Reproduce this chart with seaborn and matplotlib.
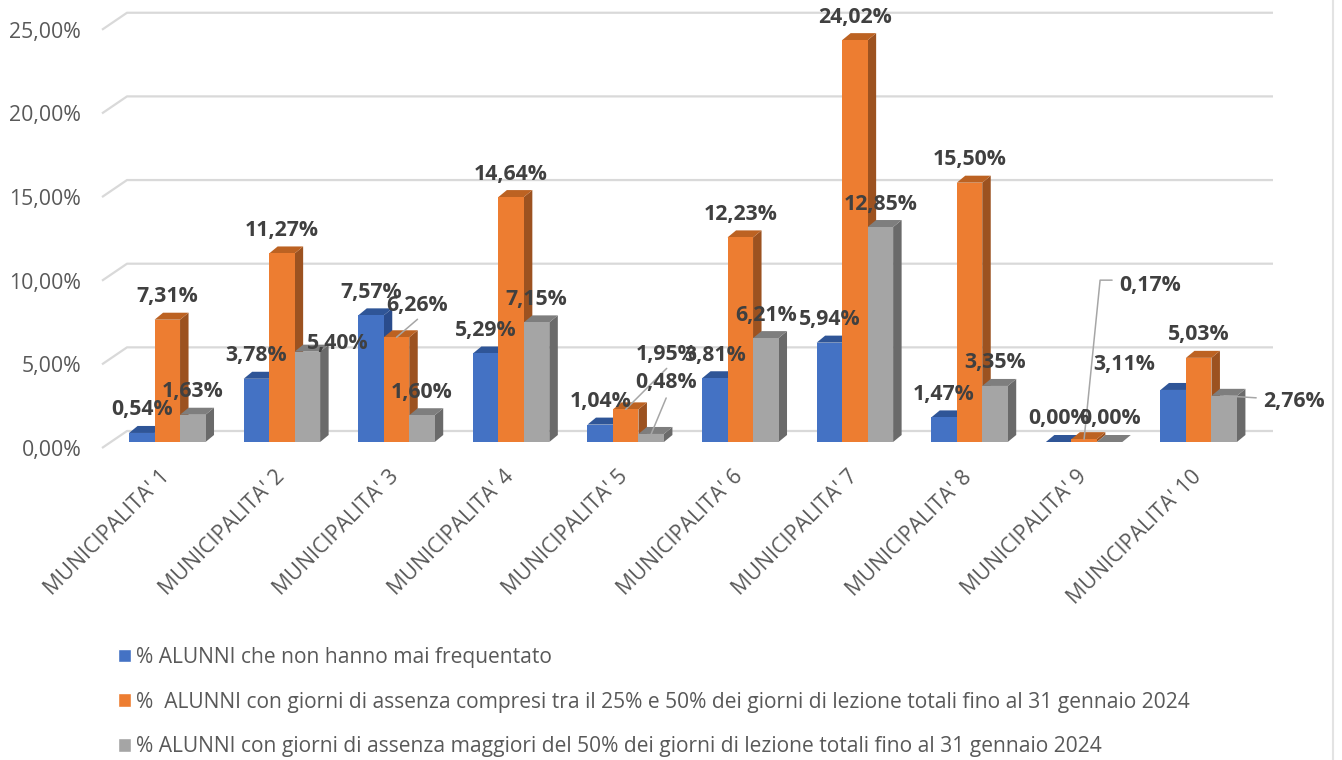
import pandas as pd
import matplotlib
matplotlib.use('Agg')
import matplotlib.pyplot as plt
import matplotlib.transforms as mtransforms
from matplotlib.lines import Line2D
from matplotlib.patches import Polygon
from matplotlib.ticker import FuncFormatter
import seaborn as sns

municipalita = ["MUNICIPALITA' %d" % i for i in range(1, 11)]
mai_frequentato = [0.54, 3.78, 7.57, 5.29, 1.04, 3.81, 5.94, 1.47, 0.00, 3.11]
assenza_25_50 = [7.31, 11.27, 6.26, 14.64, 1.95, 12.23, 24.02, 15.50, 0.17, 5.03]
assenza_50 = [1.63, 5.40, 1.60, 7.15, 0.48, 6.21, 12.85, 3.35, 0.00, 2.76]
y_ticks = [0, 5, 10, 15, 20, 25]

serie = ["% ALUNNI che non hanno mai frequentato",
         "%  ALUNNI con giorni di assenza compresi tra il 25% e 50% dei giorni di lezione totali fino al 31 gennaio 2024",
         "% ALUNNI con giorni di assenza maggiori del 50% dei giorni di lezione totali fino al 31 gennaio 2024"]
colori = ['#4472C4', '#ED7D31', '#A5A5A5']
colori_top = ['#2F5597', '#BC6222', '#7E7E7E']
colori_side = ['#2A4C8C', '#9C5220', '#6A6A6A']

# labels that Excel moved away from the default place (serie, gruppo): px offset
label_offset = {(2, 1): (30, 8), (1, 2): (21, 32), (1, 4): (41, 55), (2, 4): (15, 51),
                (1, 8): (66, 154), (0, 9): (-49, 25), (2, 9): (70, -6)}
leaders = {(1, 2): [(0, 0), (21, 18)], (1, 4): [(0, 0), (41, 41)], (2, 4): [(0, 0), (15, 36)],
           (1, 8): [(0, 0), (16, 159), (28, 159)], (2, 9): [(0, 0), (32, -2)]}

W, H = 1342, 760
PX_X = 114.6   # px per category
PX_Y = 16.73   # px per 1%
X0, Y0 = 167.3, 442  # px of first category / of 0%
LEFT, RIGHT, TOP, BOTTOM = 102, 1273, 12, 448

df = pd.DataFrame({'municipalita': municipalita * 3,
                   'serie': [s for s in serie for _ in municipalita],
                   'valore': mai_frequentato + assenza_25_50 + assenza_50})

sns.set_theme(style='white')
plt.rcParams['font.family'] = ['Open Sans', 'DejaVu Sans']

fig = plt.figure(figsize=(W / 100, H / 100), dpi=100)
ax = fig.add_axes([LEFT / W, 1 - BOTTOM / H, (RIGHT - LEFT) / W, (BOTTOM - TOP) / H])
sns.barplot(data=df, x='municipalita', y='valore', hue='serie', hue_order=serie, palette=colori,
            saturation=1, width=0.667, gap=0, ax=ax, legend=True)

ax.set_xlim((LEFT - X0) / PX_X, (RIGHT - X0) / PX_X)
ax.set_ylim((Y0 - BOTTOM) / PX_Y, (Y0 - TOP) / PX_Y)
ax.set_xlabel('')
ax.set_ylabel('')
sns.despine(ax=ax, left=True, bottom=True)

# back wall and the little diagonal of every gridline
xmin, xmax = ax.get_xlim()
dx_wall = 25 / PX_X
for v in y_ticks:
    front = v + (Y0 - 448) / PX_Y
    back = v + (Y0 - 431) / PX_Y
    ax.plot([xmin, xmin + dx_wall, xmax], [front, back, back], color='#D9D9D9', lw=1.6,
            clip_on=False, zorder=0.5, solid_capstyle='butt')

ax.set_yticks(y_ticks)
ax.yaxis.set_major_formatter(FuncFormatter(lambda v, p: ('%.2f%%' % v).replace('.', ',')))
ax.tick_params(axis='y', length=0, pad=15, labelsize=15.3, labelcolor='#595959')
giu = mtransforms.ScaledTranslation(0, -6 / 100, fig.dpi_scale_trans)
for lab in ax.get_yticklabels():
    lab.set_transform(lab.get_transform() + giu)
ax.tick_params(axis='x', length=0, pad=9, labelsize=15.4, labelcolor='#595959')
sposta = mtransforms.ScaledTranslation(-8 / 100, -6 / 100, fig.dpi_scale_trans)
for lab in ax.get_xticklabels():
    lab.set_rotation(45)
    lab.set_ha('right')
    lab.set_rotation_mode('anchor')
    lab.set_transform(lab.get_transform() + sposta)

# fake 3D: side and top faces built from the seaborn bars
dx = 8.5 / PX_X
dy = 7 / PX_Y
for i, cont in enumerate(ax.containers):
    for g, bar in enumerate(cont.patches):
        x, w, h = bar.get_x(), bar.get_width(), bar.get_height()
        bar.set_zorder(3 + i + 0.5)
        bar.set_edgecolor('none')
        ax.add_patch(Polygon([(x + w, 0), (x + w + dx, dy), (x + w + dx, h + dy), (x + w, h)],
                             facecolor=colori_side[i], edgecolor='none', zorder=3 + i))
        ax.add_patch(Polygon([(x, h), (x + dx, h + dy), (x + w + dx, h + dy), (x + w, h)],
                             facecolor=colori_top[i], edgecolor='none', zorder=3 + i + 0.2))

        ox, oy = label_offset.get((i, g), (0, 23))
        ax.annotate(('%.2f%%' % h).replace('.', ','), xy=(x + w / 2, h), xytext=(ox, oy),
                    textcoords='offset pixels', ha='center', va='center', fontsize=15.3,
                    fontweight='bold', color='#404040', zorder=20, annotation_clip=False)
        if (i, g) in leaders:
            base = ax.transData.transform((x + w / 2, h))
            pts = [(base[0] + a, base[1] + b) for a, b in leaders[(i, g)]]
            ax.plot([p[0] for p in pts], [p[1] for p in pts], color='#A6A6A6', lw=1.1,
                    transform=mtransforms.IdentityTransform(), clip_on=False, zorder=19)

ax.set_xlim((LEFT - X0) / PX_X, (RIGHT - X0) / PX_X)
ax.set_ylim((Y0 - BOTTOM) / PX_Y, (Y0 - TOP) / PX_Y)

sns.move_legend(ax, loc='upper left', bbox_to_anchor=(118 / W, 1 - 647 / H),
                bbox_transform=fig.transFigure, title=None, frameon=False, ncol=1,
                fontsize=15.08, labelspacing=1.13, handlelength=0.63, handleheight=0.63,
                handletextpad=0.24, borderpad=0, borderaxespad=0, labelcolor='#595959')

# thin border of the chart frame, right side
fig.add_artist(Line2D([1333 / W, 1333 / W], [0, 1], color='#E3E3E3', lw=1.5))

fig.savefig('out.png', dpi=100)
